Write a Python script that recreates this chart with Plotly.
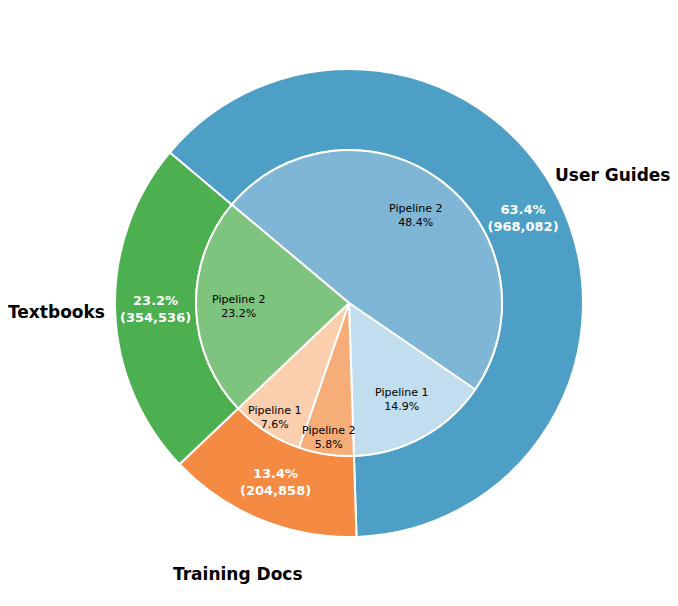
import math
import plotly.graph_objects as go

# outer ring: document categories
categories = ['User Guides', 'Training Docs', 'Textbooks']
category_values = [968082, 204858, 354536]
category_colors = ['#4e9fc5', '#f58a42', '#4caf50']

# inner pie: pipeline split per category
sub_labels = ['Pipeline 2', 'Pipeline 1', 'Pipeline 2', 'Pipeline 1', 'Pipeline 2']
sub_parents = ['User Guides', 'User Guides', 'Training Docs', 'Training Docs', 'Textbooks']
sub_values = [740000, 228082, 88770, 116088, 354536]
sub_colors = ['#7fb6d5', '#c1ddee', '#f7ad78', '#fbcfae', '#7ec47e']

W, H = 678, 606
# the page body has an 8px margin, so shift the pie centre by that
cx, cy = 349 - 8, 303 - 8
r_out, r_in = 234, 153
rotation = -50

def dom(r):
    return dict(x=[(cx - r) / W, (cx + r) / W],
                y=[1 - (cy + r) / H, 1 - (cy - r) / H])

def mid_angles(values):
    total = sum(values)
    cum = 0
    out = []
    for v in values:
        out.append(math.radians(rotation + 360 * (cum + v / 2) / total))
        cum += v
    return out

def to_paper(theta, r):
    px = cx + r * math.sin(theta)
    py = cy - r * math.cos(theta)
    return px / W, 1 - py / H

fig = go.Figure()

fig.add_trace(go.Pie(
    labels=categories, values=category_values, sort=False,
    direction='clockwise', rotation=rotation, hole=r_in / r_out,
    domain=dom(r_out),
    marker=dict(colors=category_colors, line=dict(color='white', width=2)),
    texttemplate='<b>%{percent:.1%}</b><br><b>(%{value:,})</b>',
    textposition='inside', insidetextorientation='horizontal',
    textfont=dict(family='DejaVu Sans', size=13, color='white'),
    hoverinfo='label+value+percent', showlegend=False,
))

fig.add_trace(go.Pie(
    labels=[f'{p} / {l}' for p, l in zip(sub_parents, sub_labels)],
    values=sub_values, sort=False,
    direction='clockwise', rotation=rotation,
    domain=dom(r_in),
    marker=dict(colors=sub_colors, line=dict(color='white', width=2)),
    textinfo='none',
    hoverinfo='label+value+percent', showlegend=False,
))

# category names outside the ring, at each slice's mid-angle
for name, theta in zip(categories, mid_angles(category_values)):
    x, y = to_paper(theta, 293)
    fig.add_annotation(x=x, y=y, xref='paper', yref='paper',
                       xanchor='center', yanchor='middle',
                       text=f'<b>{name}</b>', showarrow=False,
                       font=dict(family='DejaVu Sans', size=17, color='black'))

# pipeline labels inside the inner pie; thin slices get pushed outwards
sub_total = sum(sub_values)
for lab, v, theta in zip(sub_labels, sub_values, mid_angles(sub_values)):
    share = v / sub_total
    x, y = to_paper(theta, (0.72 if share >= 0.1 else 0.89) * r_in)
    fig.add_annotation(x=x, y=y, xref='paper', yref='paper',
                       xanchor='center', yanchor='middle',
                       text=f'{lab}<br>{100 * share:.1f}%',
                       showarrow=False,
                       font=dict(family='DejaVu Sans', size=11, color='black'))

fig.update_layout(
    width=W, height=H,
    margin=dict(l=0, r=0, t=0, b=0),
    paper_bgcolor='white', plot_bgcolor='white',
)

fig.write_html('out.html')
